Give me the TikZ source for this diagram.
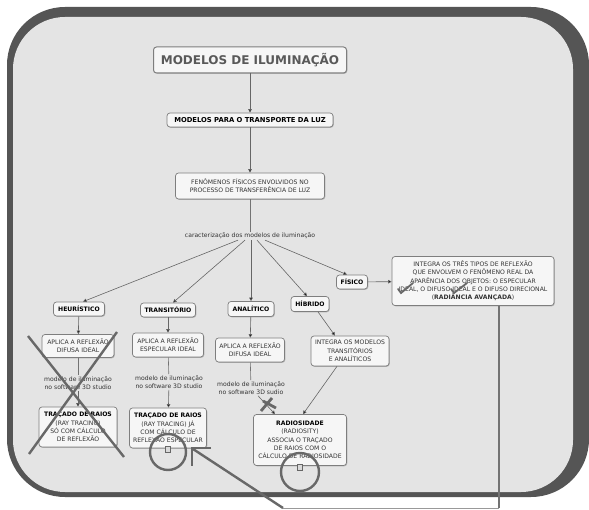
\documentclass[tikz,border=0pt]{standalone}
\usepackage{fontspec}
\setmainfont{DejaVu Sans}
\usetikzlibrary{arrows.meta,shadows}
\definecolor{frameD}{HTML}{555555}
\definecolor{frameL}{HTML}{E4E4E4}
\definecolor{boxF}{HTML}{F6F6F6}
\definecolor{boxD}{HTML}{7E7E7E}
\definecolor{ink}{HTML}{333333}
\definecolor{markc}{HTML}{686868}
\begin{document}
\begin{tikzpicture}[x=1pt,y=-1pt,
 box/.style={draw=boxD, fill=boxF, rounded corners=3pt, line width=0.7pt, align=center, text=ink,
   font=\fontsize{6.1}{8.3}\selectfont, inner xsep=3pt, inner ysep=2.5pt,
   drop shadow={shadow xshift=0.8pt,shadow yshift=-0.8pt,fill=black!30,opacity=1}},
 bl/.style={font=\bfseries\fontsize{6.1}{8.3}\selectfont, text=black},
 lbl/.style={align=center, text=ink, font=\fontsize{6.1}{8.3}\selectfont, inner sep=1pt},
 arr/.style={draw=black!60, line width=0.6pt, -{Triangle[length=3.5pt,width=3.5pt,fill=black]}},
 ln/.style={draw=black!55, line width=0.6pt},
 mk/.style={draw=markc, line width=2.4pt},
]
\useasboundingbox (0,0) rectangle (589,510);
\fill[white] (0,0) rectangle (589,510);
% frame
\fill[frameD, rounded corners=58pt] (7,7) rectangle (589,497);
\fill[frameL, rounded corners=52pt] (13,17) rectangle (573,492);

% nodes
\node[box, font=\bfseries\fontsize{12}{14}\selectfont, text=black!65, minimum width=193pt, minimum height=26pt, line width=1pt] (title) at (250,60) {MODELOS DE ILUMINAÇÃO};
\node[box, font=\bfseries\fontsize{6.8}{8}\selectfont, text=black, minimum width=166pt, minimum height=14pt] (transp) at (250,120) {MODELOS PARA O TRANSPORTE DA LUZ};
\node[box, minimum width=149pt, minimum height=26pt] (fen) at (250,186) {FENÔMENOS FÍSICOS ENVOLVIDOS NO\\PROCESSO DE TRANSFERÊNCIA DE LUZ};
\node[lbl] (cara) at (250,236) {caracterização dos modelos de iluminação};

\node[box, bl, minimum width=51pt, minimum height=14pt] (heur) at (79,309) {HEURÍSTICO};
\node[box, bl, minimum width=55pt, minimum height=14pt] (trans) at (168,310) {TRANSITÓRIO};
\node[box, bl, minimum width=46pt, minimum height=15pt] (anal) at (251,309) {ANALÍTICO};
\node[box, bl, minimum width=38pt, minimum height=15pt] (hib) at (310,304) {HÍBRIDO};
\node[box, bl, minimum width=31pt, minimum height=14pt] (fis) at (352,282) {FÍSICO};
\node[box, minimum width=162pt, minimum height=49pt] (big) at (473,281) {INTEGRA OS TRÊS TIPOS DE REFLEXÃO\\QUE ENVOLVEM O FENÔMENO REAL DA\\APARÊNCIA DOS OBJETOS: O ESPECULAR\\IDEAL, O DIFUSO IDEAL E O DIFUSO DIRECIONAL\\(\textbf{RADIÂNCIA AVANÇADA})};

\node[box, minimum width=72pt, minimum height=23pt] (apl1) at (78,346) {APLICA A REFLEXÃO\\DIFUSA IDEAL};
\node[box, minimum width=71pt, minimum height=24pt] (apl2) at (168,345) {APLICA A REFLEXÃO\\ESPECULAR IDEAL};
\node[box, minimum width=69pt, minimum height=24pt] (apl3) at (250,350) {APLICA A REFLEXÃO\\DIFUSA IDEAL};
\node[box, minimum width=78pt, minimum height=30pt] (integ) at (350,351) {INTEGRA OS MODELOS\\TRANSITÓRIOS\\E ANALÍTICOS};

\node[lbl] (mod1) at (78,383) {modelo de iluminação\\no software 3D studio};
\node[lbl] (mod2) at (169,382) {modelo de iluminação\\no software 3D studio};
\node[lbl] (mod3) at (251,388) {modelo de iluminação\\no software 3D sudio};

\node[box, minimum width=78pt, minimum height=40pt] (tr1) at (78,427) {\textbf{\color{black}TRAÇADO DE RAIOS}\\(RAY TRACING)\\SÓ COM CÁLCULO\\DE REFLEXÃO};
\node[box, minimum width=77pt, minimum height=40pt] (tr2) at (168,428) {\textbf{\color{black}TRAÇADO DE RAIOS}\\(RAY TRACING) JÁ\\COM CÁLCULO DE\\REFLEXÃO ESPECULAR};
\node[box, minimum width=93pt, minimum height=51pt] (rad) at (300,440) {\textbf{\color{black}RADIOSIDADE}\\(RADIOSITY)\\ASSOCIA O TRAÇADO\\DE RAIOS COM O\\CÁLCULO DE RADIOSIDADE};

% small icons under boxes
\node[draw=black!60, fill=black!15, minimum width=5pt, minimum height=6pt, inner sep=0pt, line width=0.4pt] (ic2) at (168,449) {};
\node[draw=black!60, fill=black!15, minimum width=5pt, minimum height=6pt, inner sep=0pt, line width=0.4pt] (ic3) at (300,467) {};

% connectors
\draw[arr] (title) -- (transp);
\draw[arr] (transp) -- (fen);
\draw[ln] (fen) -- (cara);
\draw[arr] ([xshift=-12pt]cara.south) -- ([xshift=4pt]heur.north);
\draw[arr] ([xshift=-5pt]cara.south) -- ([xshift=5pt]trans.north);
\draw[arr] ([xshift=1pt]cara.south) -- (anal.north);
\draw[arr] ([xshift=7pt]cara.south) -- ([xshift=-3pt]hib.north);
\draw[arr] ([xshift=15pt]cara.south) -- ([xshift=-5pt]fis.north);
\draw[arr] (fis) -- (big);
\draw[arr] (heur) -- (apl1);
\draw[ln] (apl1) -- (mod1);
\draw[arr] (mod1) -- (tr1);
\draw[arr] (trans) -- (apl2);
\draw[ln] (apl2) -- (mod2);
\draw[arr] (mod2) -- (tr2);
\draw[arr] (anal) -- (apl3);
\draw[ln] (apl3) -- (mod3);
\draw[arr] ([xshift=7pt]mod3.south) -- ([xshift=-25pt]rad.north);
\draw[arr] ([xshift=8pt]hib.south) -- ([xshift=-15pt]integ.north);
\draw[arr] ([xshift=-13pt]integ.south) -- ([xshift=3pt]rad.north);

% hand-drawn marks
\draw[mk] (28,336) -- (124,457);
\draw[mk] (117,332) -- (29,454);
\draw[mk, line width=2.8pt] (261,411) -- (272,398);
\draw[mk, line width=2.8pt] (263,401) -- (276,408);
\draw[mk, line width=1.8pt, line cap=round] (398,289) -- (401,293) -- (413,283);
\draw[mk, line width=1.8pt, line cap=round] (451,289) -- (454,293) -- (467,283);
\draw[mk] (ic2) ++(0,3) circle (18);
\draw[mk] (ic3) ++(0,5) circle (19);

% pointer
\coordinate (pb) at (499,508);
\coordinate (pc) at (283,508);
\coordinate (ptip) at (193,449);
\draw[draw=black!55, line width=2.4pt] ([xshift=26pt]big.south) -- (pb);
\draw[draw=black!40, line width=0.8pt] (pb) -- (pc);
\draw[mk] (pc) -- (ptip);
\draw[mk] (211,448) -- (192,448) -- (192,466);
\end{tikzpicture}
\end{document}
